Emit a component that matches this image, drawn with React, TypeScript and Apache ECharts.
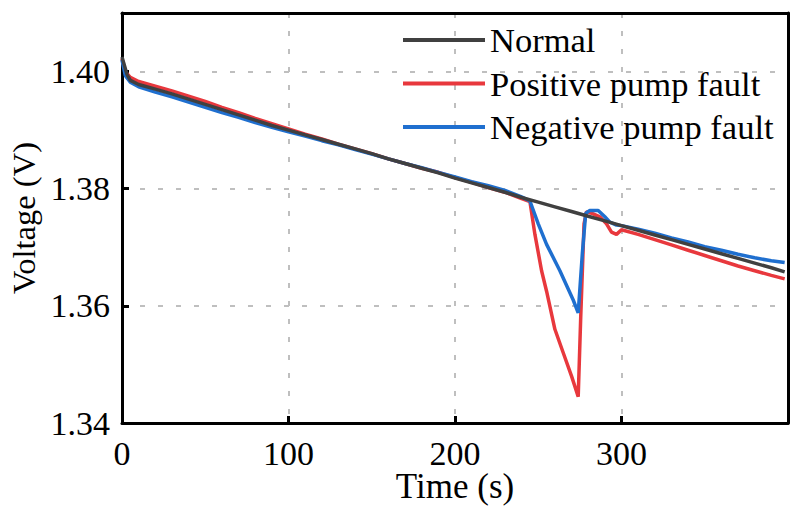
import React, { useEffect, useRef } from "react";
import * as echarts from "echarts";

const normalTime = [0, 1, 3, 5, 10, 20, 30, 40, 50, 60, 70, 80, 90, 100, 110, 120, 130, 140, 150, 160, 170, 180, 190, 200, 210, 220, 230, 240, 250, 260, 270, 280, 290, 300, 310, 320, 330, 340, 350, 360, 370, 380, 390, 398];
const normalVolt = [1.4025, 1.4015, 1.3995, 1.3985, 1.3978, 1.397, 1.3962, 1.3953, 1.3944, 1.3935, 1.3926, 1.3917, 1.3908, 1.39, 1.3892, 1.3884, 1.3876, 1.3868, 1.386, 1.3851, 1.3843, 1.3835, 1.3827, 1.3818, 1.381, 1.3802, 1.3794, 1.3785, 1.3777, 1.3769, 1.3761, 1.3753, 1.3745, 1.3737, 1.3729, 1.3721, 1.3713, 1.3705, 1.3697, 1.3689, 1.3681, 1.3673, 1.3665, 1.3658];

const posTime = [0, 2, 5, 10, 20, 30, 40, 50, 60, 70, 80, 90, 100, 110, 120, 130, 140, 150, 160, 170, 180, 190, 200, 210, 220, 230, 240, 245, 248, 252, 255, 260, 265, 270, 274, 275.5, 277.5, 279, 283, 287, 291, 294, 297, 300, 310, 320, 330, 340, 350, 360, 370, 380, 390, 398];
const posVolt = [1.4022, 1.4, 1.399, 1.3983, 1.3975, 1.3967, 1.3958, 1.3949, 1.3939, 1.393, 1.392, 1.3911, 1.3902, 1.3893, 1.3885, 1.3876, 1.3868, 1.386, 1.3851, 1.3843, 1.3835, 1.3828, 1.3819, 1.3811, 1.3802, 1.3794, 1.3783, 1.3778, 1.3722, 1.366, 1.3625, 1.356, 1.352, 1.348, 1.3445, 1.358, 1.374, 1.3761, 1.3757, 1.3752, 1.374, 1.3726, 1.3722, 1.373, 1.3722, 1.3713, 1.3704, 1.3695, 1.3686, 1.3677, 1.3668, 1.366, 1.3652, 1.3646];

const negTime = [0, 2, 5, 10, 20, 30, 40, 50, 60, 70, 80, 90, 100, 110, 120, 130, 140, 150, 160, 170, 180, 190, 200, 210, 220, 230, 240, 245, 250, 255, 263, 271, 274, 276.5, 278.5, 281, 286, 290, 293, 297, 300, 310, 320, 330, 340, 350, 360, 370, 380, 390, 398];
const negVolt = [1.402, 1.3993, 1.3982, 1.3974, 1.3965, 1.3957, 1.3948, 1.3939, 1.393, 1.3922, 1.3913, 1.3905, 1.3897, 1.389, 1.3882, 1.3875, 1.3867, 1.3859, 1.3851, 1.3843, 1.3836, 1.3828, 1.382, 1.3812, 1.3805, 1.3797, 1.3786, 1.3779, 1.374, 1.3705, 1.366, 1.361, 1.3588, 1.369, 1.3758, 1.3763, 1.3763, 1.3752, 1.3743, 1.3738, 1.3737, 1.3731, 1.3724, 1.3716, 1.3709, 1.3701, 1.3695, 1.3688, 1.3682, 1.3677, 1.3674];

const seriesNames = ["Normal", "Positive pump fault", "Negative pump fault"];
const xTicks = { min: 0, max: 400, interval: 100 };
const yTicks = { min: 1.34, max: 1.41, interval: 0.02 };

const zip = (t: number[], v: number[]) => t.map((x, i) => [x, v[i]]);

const FONT = "Liberation Serif";

export default function App() {
  const ref = useRef<HTMLDivElement>(null);
  useEffect(() => {
    if (!ref.current) return;
    const chart = echarts.init(ref.current, undefined, { renderer: "svg" });
    const split = { show: true, lineStyle: { color: "#bfbfbf", width: 2, type: [5, 13] } };
    const axisLine = { show: true, onZero: false, lineStyle: { color: "#000", width: 3 } };
    const tick = { show: true, inside: true, length: 7, lineStyle: { color: "#000", width: 3 } };
    chart.setOption({
      animation: false,
      backgroundColor: "#ffffff",
      textStyle: { fontFamily: FONT },
      grid: { left: 122, right: 11, top: 13, bottom: 84, containLabel: false, outerBoundsMode: "none" },
      legend: {
        orient: "vertical",
        left: 398,
        top: 15,
        icon: "rect",
        itemWidth: 82,
        itemHeight: 4,
        itemGap: 3.5,
        data: seriesNames,
        textStyle: {
          fontFamily: FONT,
          fontSize: 34.5,
          color: "#000",
          lineHeight: 40,
        },
      },
      xAxis: [
        {
          type: "value",
          min: xTicks.min,
          max: xTicks.max,
          interval: xTicks.interval,
          name: "Time (s)",
          nameLocation: "middle",
          nameGap: 50,
          nameMoveOverlap: false,
          nameTextStyle: { fontFamily: FONT, fontSize: 35, color: "#000", lineHeight: 26 },
          axisLine,
          axisTick: tick,
          axisLabel: {
            fontFamily: FONT,
            fontSize: 34,
            color: "#000",
            margin: 16,
            lineHeight: 28,
            showMaxLabel: false,
          },
          splitLine: split,
        },
        {
          type: "value",
          position: "top",
          min: xTicks.min,
          max: xTicks.max,
          interval: xTicks.interval,
          axisLine,
          axisTick: { show: false },
          axisLabel: { show: false },
          splitLine: { show: false },
        },
      ],
      yAxis: [
        {
          type: "value",
          min: yTicks.min,
          max: yTicks.max,
          interval: yTicks.interval,
          name: "Voltage (V)",
          nameLocation: "middle",
          nameGap: 82,
          nameMoveOverlap: false,
          nameTextStyle: { fontFamily: FONT, fontSize: 32.5, color: "#000" },
          axisLine,
          axisTick: tick,
          axisLabel: {
            fontFamily: FONT,
            fontSize: 34,
            color: "#000",
            margin: 12,
            showMaxLabel: false,
            formatter: (v: number) => v.toFixed(2),
          },
          splitLine: split,
        },
        {
          type: "value",
          position: "right",
          min: yTicks.min,
          max: yTicks.max,
          interval: yTicks.interval,
          axisLine,
          axisTick: { show: false },
          axisLabel: { show: false },
          splitLine: { show: false },
        },
      ],
      series: [
        {
          name: seriesNames[1],
          type: "line",
          data: zip(posTime, posVolt),
          showSymbol: false,
          color: "#e8383d",
          lineStyle: { width: 3.5, color: "#e8383d" },
          z: 2,
        },
        {
          name: seriesNames[2],
          type: "line",
          data: zip(negTime, negVolt),
          showSymbol: false,
          color: "#1f6fcf",
          lineStyle: { width: 3.5, color: "#1f6fcf" },
          z: 3,
        },
        {
          name: seriesNames[0],
          type: "line",
          data: zip(normalTime, normalVolt),
          showSymbol: false,
          color: "#404040",
          lineStyle: { width: 3.5, color: "#404040" },
          z: 4,
        },
      ],
    });
    return () => chart.dispose();
  }, []);
  return (
    <div
      ref={ref}
      style={{ position: "fixed", left: 0, top: 0, width: 799, height: 507, background: "#fff" }}
    />
  );
}
